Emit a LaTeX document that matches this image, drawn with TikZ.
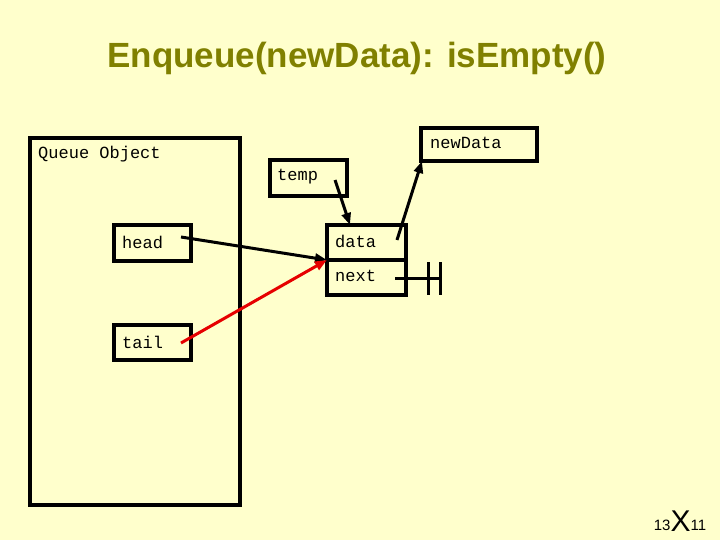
\documentclass[tikz,border=0pt]{standalone}
\usepackage{fontspec}
\setmainfont{Liberation Sans}
\setmonofont{Liberation Mono}
\usetikzlibrary{arrows.meta, calc}
\definecolor{mybg}{RGB}{255,255,204}
\definecolor{myolive}{RGB}{128,128,0}
\definecolor{myred}{RGB}{230,0,0}
\tikzstyle{cell} = [draw=black, line width=3.5pt, inner sep=0, outer sep=0,
    anchor=north west]
\tikzstyle{txt} = [inner sep=0, anchor=west, font=\ttfamily\fontsize{17}{17}\selectfont]
\tikzstyle{ptr} = [line width=3pt, -{Triangle[length=12pt,width=9pt]}]

\begin{document}
\begin{tikzpicture}[x=1pt, y=-1pt]

\fill[mybg] (0,0) rectangle (720,540);
\useasboundingbox (0,0) rectangle (720,540);

\node[text=myolive, font=\bfseries\fontsize{35}{35}\selectfont] (title) at (357,58) {Enqueue(newData): isEmpty()};

%%% queue object
\node[cell, minimum width=210, minimum height=367] (queue) at (30,138) {};
\node[txt] (qlbl) at (38,154) {Queue Object};
\node[cell, minimum width=77, minimum height=36] (head) at (114,225) {};
\node[txt] (headlbl) at (122,242) {head};
\node[cell, minimum width=77, minimum height=35] (tail) at (114,325) {};
\node[txt] (taillbl) at (122,342) {tail};

%%% list node
\node[cell, minimum width=77, minimum height=36] (temp) at (270,160) {};
\node[txt] (templbl) at (277,177) {temp};
\node[cell, minimum width=79, minimum height=35] (data) at (327,225) {};
\node[txt] (datalbl) at (335,241) {data};
\node[cell, minimum width=79, minimum height=35] (next) at (327,260) {};
\node[txt] (nextlbl) at (335,276) {next};
\node[cell, minimum width=116, minimum height=33] (newdata) at (421,128) {};
\node[txt] (newlbl) at (430,143) {newData};

\coordinate (hs) at (181,237);
\coordinate (ts) at (181,343);
\coordinate (ps) at (335,180);
\coordinate (ds) at (397,240);
\coordinate (ns) at (395,278);
\coordinate (gnd) at (440,278);

\draw[ptr] (hs) -- (data.south west);
\draw[ptr, myred] (ts) -- (data.south west);
\draw[ptr] (ps) -- ($(data.north west)+(23,0)$);
\draw[ptr] (ds) -- ($(newdata.south west)+(1,0)$);

%%% null
\draw[line width=3pt] (ns) -- (gnd);
\draw[line width=3pt] ($(gnd)+(-12,-16)$) -- ($(gnd)+(-12,17)$);
\draw[line width=3pt] ($(gnd)+(0,-16)$) -- ($(gnd)+(0,17)$);

\node[inner sep=0, font=\fontsize{15}{15}\selectfont] (pg) at (680,521)
  {13\raisebox{-1pt}{\fontsize{30}{30}\selectfont X}11};

\end{tikzpicture}
\end{document}
